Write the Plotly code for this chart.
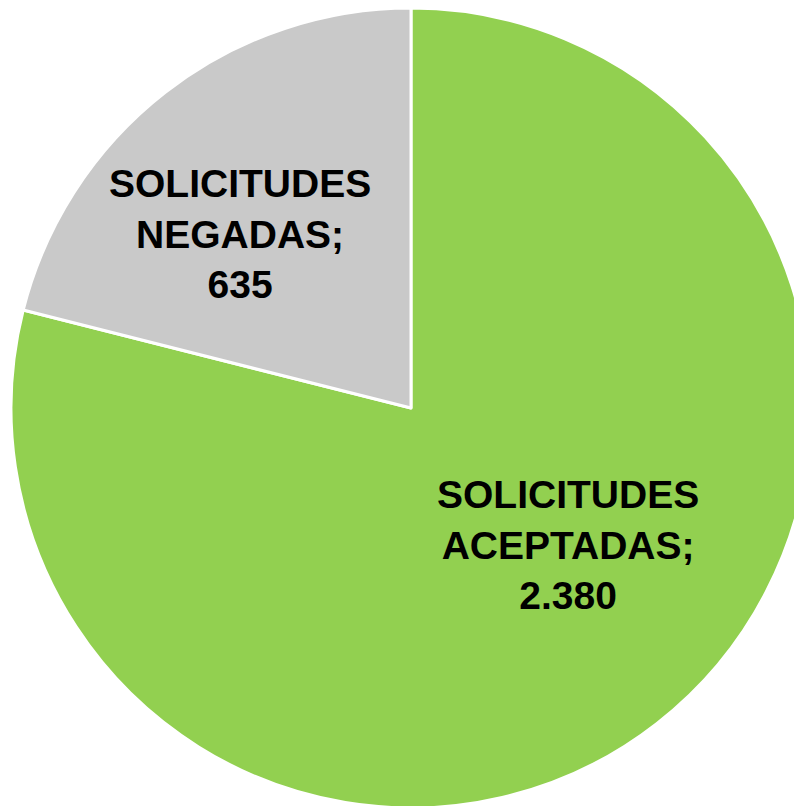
import plotly.graph_objects as go

labels = ["SOLICITUDES<br>ACEPTADAS", "SOLICITUDES<br>NEGADAS"]
values = [2380, 635]
colors = ["#92D050", "#C9C9C9"]
# label anchor positions (paper coords), style only
label_pos = [(0.696, 0.329), (0.286, 0.717)]

fig = go.Figure(go.Pie(
    labels=labels,
    values=values,
    sort=False,
    direction="clockwise",
    rotation=0,
    marker=dict(colors=colors, line=dict(color="white", width=3)),
    textinfo="none",
    hoverinfo="label+value",
    showlegend=False,
))

for lab, val, (x, y) in zip(labels, values, label_pos):
    txt = f"<b>{lab};<br>{val:,}</b>".replace(",", ".")
    fig.add_annotation(
        x=x, y=y, xref="paper", yref="paper",
        text=txt, showarrow=False,
        xanchor="center", yanchor="middle", align="center",
        font=dict(family="Liberation Sans, Arial, sans-serif", size=39, color="black"),
    )

fig.update_layout(
    width=803, height=800,
    margin=dict(l=3, r=0, t=0, b=0),
    paper_bgcolor="white",
    plot_bgcolor="white",
)
fig.write_html(
    "out.html",
    post_script=(
        "var s=document.createElement('style');"
        "s.textContent='html,body{overflow:hidden !important;}::-webkit-scrollbar{display:none;width:0;height:0;}';"
        "document.head.appendChild(s);window.scrollTo(0,0);"
    ),
)
